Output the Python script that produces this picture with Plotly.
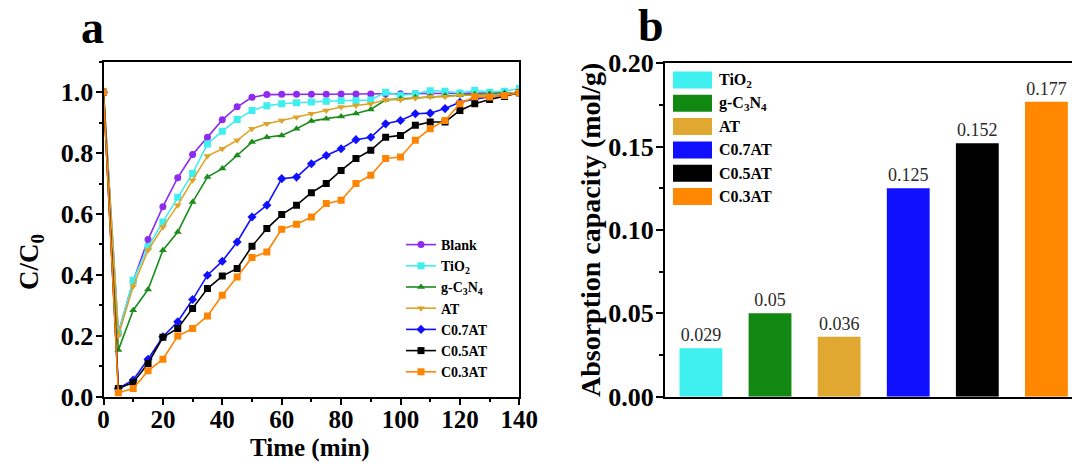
import plotly.graph_objects as go

# ---------------- data ----------------
time_min = [0, 5, 10, 15, 20, 25, 30, 35, 40, 45, 50, 55, 60, 65, 70,
            75, 80, 85, 90, 95, 100, 105, 110, 115, 120, 125, 130, 135, 140]

blank = [1.0, 0.21, 0.38, 0.516, 0.624, 0.719, 0.795, 0.852, 0.909, 0.952, 0.983, 0.992, 0.993, 0.993, 0.993,
         0.993, 0.994, 0.994, 0.994, 0.995, 0.995, 0.995, 0.996, 0.996, 0.996, 0.997, 0.997, 0.998, 0.998]
tio2 = [1.0, 0.208, 0.382, 0.492, 0.574, 0.655, 0.733, 0.83, 0.872, 0.91, 0.94, 0.955, 0.962, 0.965, 0.968,
        0.97, 0.972, 0.973, 0.974, 1.0, 0.99, 0.995, 1.005, 1.003, 0.997, 1.006, 1.0, 1.003, 1.012]
gc3n4 = [1.0, 0.153, 0.284, 0.352, 0.481, 0.541, 0.639, 0.721, 0.749, 0.792, 0.836, 0.852, 0.858, 0.88, 0.905,
         0.913, 0.92, 0.93, 0.943, 0.975, 0.978, 0.983, 0.986, 0.989, 0.991, 0.993, 0.995, 0.997, 0.998]
at = [1.0, 0.2, 0.363, 0.481, 0.557, 0.629, 0.711, 0.79, 0.814, 0.842, 0.88, 0.896, 0.907, 0.918, 0.929,
      0.94, 0.951, 0.956, 0.962, 0.975, 0.975, 0.98, 0.985, 0.985, 0.99, 0.99, 0.99, 0.995, 1.0]
c07at = [1.0, 0.027, 0.055, 0.123, 0.197, 0.246, 0.319, 0.399, 0.445, 0.508, 0.59, 0.629, 0.716, 0.721, 0.765,
         0.792, 0.814, 0.844, 0.852, 0.896, 0.907, 0.929, 0.931, 0.946, 0.967, 0.978, 0.984, 0.989, 0.998]
c05at = [1.0, 0.027, 0.047, 0.109, 0.195, 0.224, 0.29, 0.355, 0.396, 0.421, 0.494, 0.552, 0.598, 0.629, 0.67,
         0.70, 0.743, 0.782, 0.809, 0.852, 0.858, 0.891, 0.902, 0.902, 0.94, 0.962, 0.976, 0.986, 0.998]
c03at = [1.0, 0.013, 0.027, 0.085, 0.123, 0.199, 0.224, 0.265, 0.333, 0.393, 0.457, 0.475, 0.55, 0.566, 0.59,
         0.634, 0.645, 0.70, 0.727, 0.782, 0.787, 0.842, 0.88, 0.907, 0.962, 0.985, 0.984, 0.989, 0.998]

line_names = ["Blank", "TiO<sub>2</sub>", "g-C<sub>3</sub>N<sub>4</sub>", "AT", "C0.7AT", "C0.5AT", "C0.3AT"]
line_series = [blank, tio2, gc3n4, at, c07at, c05at, c03at]
line_colors = ["#8f2bf0", "#3feeee", "#1c8c1c", "#dca52a", "#1010ff", "#000000", "#ff8400"]
line_symbols = ["circle", "square", "triangle-up", "triangle-down", "diamond", "square", "square"]

bar_categories = ["TiO<sub>2</sub>", "g-C<sub>3</sub>N<sub>4</sub>", "AT", "C0.7AT", "C0.5AT", "C0.3AT"]
bar_values = [0.029, 0.05, 0.036, 0.125, 0.152, 0.177]
bar_labels = ["0.029", "0.05", "0.036", "0.125", "0.152", "0.177"]
bar_colors = ["#3ff0f0", "#118811", "#e0a830", "#1010ff", "#000000", "#ff8800"]

FONT = "Liberation Serif"
W, H = 1072, 464

fig = go.Figure()

for name, ys, col, sym in zip(line_names, line_series, line_colors, line_symbols):
    fig.add_trace(go.Scatter(
        x=time_min, y=ys, mode="lines+markers", name=name,
        line=dict(color=col, width=1.6),
        marker=dict(color=col, symbol=sym, size=7),
        xaxis="x", yaxis="y", legend="legend"))

bar_x = list(range(len(bar_categories)))
fig.add_trace(go.Bar(
    x=bar_x, y=bar_values, marker=dict(color=bar_colors, line=dict(width=0)),
    width=0.62, text=bar_labels, textposition="outside", cliponaxis=False,
    textfont=dict(family=FONT, size=18, color="#2a2a2a"),
    showlegend=False, xaxis="x2", yaxis="y2"))

def px_x(p):
    return p / W

def px_y(p):
    return 1 - p / H

axis_common = dict(showline=True, linecolor="black", linewidth=2, showgrid=False, automargin=False,
                   zeroline=False, ticks="outside", tickcolor="black", tickwidth=2)

tick_font = dict(family=FONT, size=26, color="black", weight="bold")

fig.update_layout(
    width=W, height=H, margin=dict(l=0, r=0, t=0, b=0, autoexpand=False),
    paper_bgcolor="white", plot_bgcolor="white",
    xaxis=dict(domain=[px_x(103.5), px_x(519.3)], range=[0, 140], dtick=20, ticklen=6,
               mirror=True, ticklabelstandoff=-7,
               tickfont=dict(family=FONT, size=25, color="black", weight="bold"),
               minor=dict(dtick=10, ticks="outside", ticklen=3, tickwidth=2, tickcolor="black"),
               anchor="y", **axis_common),
    yaxis=dict(domain=[px_y(396.7), px_y(61.7)], range=[0, 1.1], tick0=0, dtick=0.2, tickformat=".1f",
               ticklen=6, mirror=True, ticklabelstandoff=-3, tickfont=tick_font,
               minor=dict(dtick=0.1, ticks="outside", ticklen=3, tickwidth=2, tickcolor="black"),
               anchor="x", **axis_common),
    xaxis2=dict(domain=[px_x(665), 1.0], range=[-0.52, 5.37], showticklabels=False, ticks="",
                showline=True, linecolor="black", linewidth=2, mirror=True, showgrid=False,
                zeroline=False, anchor="y2", automargin=False),
    yaxis2=dict(domain=[px_y(396.7), px_y(63.3)], range=[0, 0.2], dtick=0.05, tickformat=".2f",
                ticklen=7, mirror=False, ticklabelstandoff=-3, tickfont=tick_font,
                minor=dict(dtick=0.025, ticks="outside", ticklen=4, tickwidth=2, tickcolor="black"),
                anchor="x2", **axis_common),
    legend=dict(x=px_x(401), y=px_y(229), xanchor="left", yanchor="top",
                bgcolor="rgba(0,0,0,0)", borderwidth=0, tracegroupgap=0,
                font=dict(family=FONT, size=14, color="black", weight="bold")),
    showlegend=True,
)

def note(text, x, y, size, angle=0):
    return dict(text=text, x=px_x(x), y=px_y(y), xref="paper", yref="paper",
                xanchor="center", yanchor="middle", textangle=angle, showarrow=False,
                font=dict(family=FONT, size=size, color="black"))

annotations = [
    note("<b>a</b>", 92, 27, 46),
    note("<b>b</b>", 651, 26, 46),
    note("<b>C/C<sub>0</sub></b>", 31, 262, 27, -90),
    note("<b>Time (min)</b>", 310, 448, 25),
    note("<b>Absorption capacity (mol/g)</b>", 590, 230, 28, -90),
]

# custom legend for panel b (large colour swatches)
shapes = []
for i, (cat, col) in enumerate(zip(bar_categories, bar_colors)):
    yc = 80 + 23.3 * i
    shapes.append(dict(type="rect", xref="paper", yref="paper",
                       x0=px_x(673), x1=px_x(712), y0=px_y(yc - 8.5), y1=px_y(yc + 8.5),
                       fillcolor=col, line=dict(width=0)))
    annotations.append(dict(text="<b>" + cat + "</b>", x=px_x(717), y=px_y(yc), xref="paper", yref="paper",
                            xanchor="left", yanchor="middle", showarrow=False,
                            font=dict(family=FONT, size=16, color="black")))

fig.update_layout(annotations=annotations, shapes=shapes)

fig.write_html("out.html", config={"displayModeBar": False},
               post_script="document.body.style.margin='0px';document.body.style.overflow='hidden';")
